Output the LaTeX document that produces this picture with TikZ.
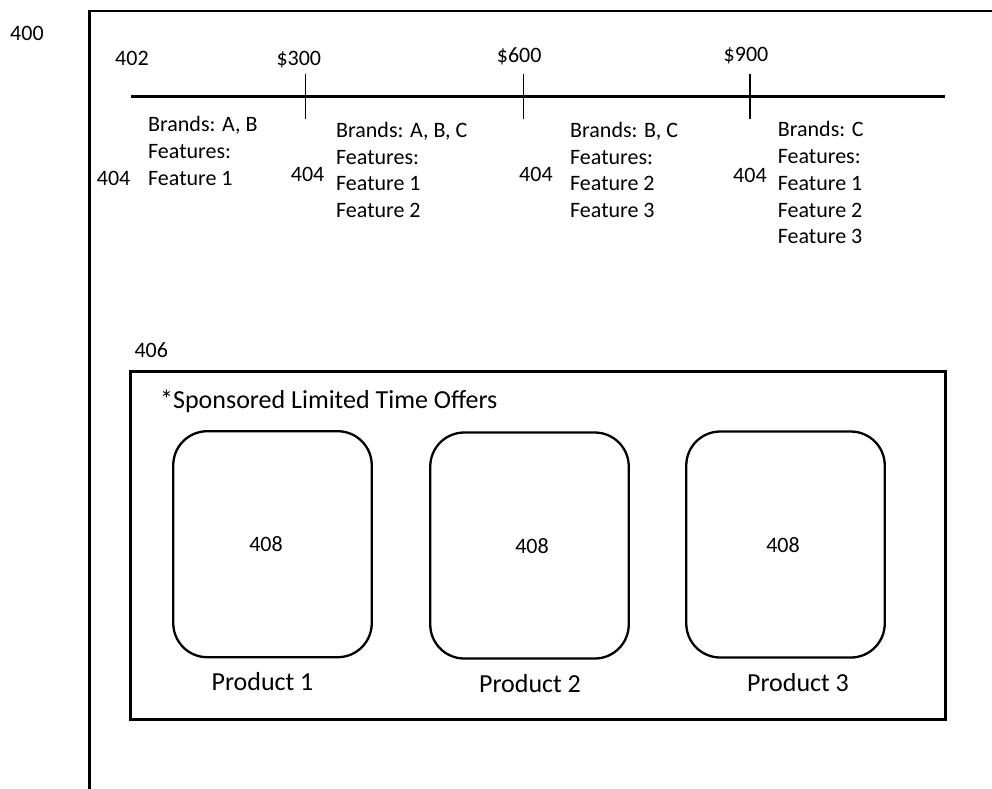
\documentclass[tikz,border=0pt]{standalone}
\usepackage{fontspec}
\setmainfont{Carlito}
\begin{document}
\begin{tikzpicture}[x=1pt,y=-1pt,
  lbl/.style={anchor=base west, inner sep=0pt, font=\fontsize{22}{26}\selectfont},
  clbl/.style={anchor=base, inner sep=0pt, font=\fontsize{22}{26}\selectfont},
  biglbl/.style={anchor=base west, inner sep=0pt, font=\fontsize{26}{30}\selectfont},
  cbiglbl/.style={anchor=base, inner sep=0pt, font=\fontsize{26}{30}\selectfont},
  heavy/.style={line width=2.8pt},
  tickline/.style={line width=1.4pt},
  prodbox/.style={draw, line width=2.3pt, rounded corners=34pt, minimum width=198.5pt, minimum height=226pt, inner sep=0pt}]
\useasboundingbox (0,0) rectangle (992,788);

% outer frame (open at right and bottom)
\coordinate (fbl) at (89.5,790);
\coordinate (ftl) at (89.5,11);
\coordinate (ftr) at (994,11);
\draw[heavy] (fbl) -- (ftl) -- (ftr);
\node[lbl] (n400) at (10,40) {400};

% timeline
\coordinate (tl0) at (131,96.7);
\coordinate (tl1) at (945,96.7);
\draw[heavy] (tl0) -- (tl1);
\node[lbl] (n402) at (115,65) {402};
\foreach \nm/\xx in {t1/305.7, t2/523.3, t3/750}{
  \coordinate (\nm a) at (\xx,73.5);
  \coordinate (\nm b) at (\xx,119.3);
  \draw[tickline] (\nm a) -- (\nm b);
}
\node[clbl] (p300) at (298.8,65) {\$300};
\node[clbl] (p600) at (519.2,62.3) {\$600};
\node[clbl] (p900) at (746,61.7) {\$900};

% segment 1
\node[lbl] (s1a) at (148,131.5) {Brands: A, B};
\node[lbl] (s1b) at (148,158.3) {Features:};
\node[lbl] (s1c) at (148,185) {Feature 1};
\node[lbl] (r1) at (96.7,185) {404};

% segment 2
\node[lbl] (s2a) at (336,137.3) {Brands: A, B, C};
\node[lbl] (s2b) at (336,164) {Features:};
\node[lbl] (s2c) at (336,190.8) {Feature 1};
\node[lbl] (s2d) at (336,217.6) {Feature 2};
\node[lbl] (r2) at (290.7,181.7) {404};

% segment 3
\node[lbl] (s3a) at (570,137.3) {Brands: B, C};
\node[lbl] (s3b) at (570,164) {Features:};
\node[lbl] (s3c) at (570,190.8) {Feature 2};
\node[lbl] (s3d) at (570,217.6) {Feature 3};
\node[lbl] (r3) at (519,181) {404};

% segment 4
\node[lbl] (s4a) at (777.7,136.7) {Brands: C};
\node[lbl] (s4b) at (777.7,163.5) {Features:};
\node[lbl] (s4c) at (777.7,190.3) {Feature 1};
\node[lbl] (s4d) at (777.7,217) {Feature 2};
\node[lbl] (s4e) at (777.7,243.8) {Feature 3};
\node[lbl] (r4) at (733,182.7) {404};

% sponsored box
\node[lbl] (n406) at (134.3,357.3) {406};
\node[draw, heavy, inner sep=0pt, minimum width=814.6pt, minimum height=347.8pt] (offers) at (538,545.6) {};
\node[biglbl] (title) at (160,408) {*Sponsored Limited Time Offers};

\node[prodbox] (pb1) at (272.5,544.2) {};
\node[prodbox] (pb2) at (529.5,545.5) {};
\node[prodbox] (pb3) at (785.5,544.5) {};
\node[clbl] (id1) at (266,551.7) {408};
\node[clbl] (id2) at (532,553) {408};
\node[clbl] (id3) at (783,552) {408};
\node[cbiglbl] (pn1) at (262.5,690) {Product 1};
\node[cbiglbl] (pn2) at (530,692.3) {Product 2};
\node[cbiglbl] (pn3) at (798,691.7) {Product 3};
\end{tikzpicture}
\end{document}
